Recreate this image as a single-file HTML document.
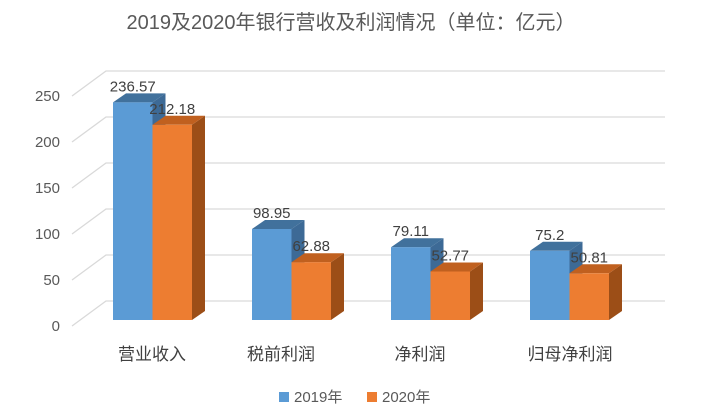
<!DOCTYPE html>
<html><head><meta charset="utf-8"><style>
html,body{margin:0;padding:0;background:#fff;}
svg{display:block;font-family:"Liberation Sans","Noto Sans CJK SC",sans-serif;}
</style></head><body>
<svg width="702" height="420" viewBox="0 0 702 420" xmlns="http://www.w3.org/2000/svg">
<rect width="702" height="420" fill="#fff"/>
<text x="351" y="29" font-size="20" fill="#595959" text-anchor="middle">2019及2020年银行营收及利润情况（单位：亿元）</text>
<g stroke="#d9d9d9" stroke-width="1.3" fill="none">
<polyline points="72,96 106,71 665,71"/>
<polyline points="72,142 106,117 665,117"/>
<polyline points="72,188 106,163 665,163"/>
<polyline points="72,234 106,209 665,209"/>
<polyline points="72,280 106,255 665,255"/>
<polyline points="72,326 106,301 665,301"/>
</g>
<g font-size="15" fill="#595959" text-anchor="end">
<text x="60" y="101">250</text><text x="60" y="147">200</text><text x="60" y="193">150</text>
<text x="60" y="239">100</text><text x="60" y="285">50</text><text x="60" y="331">0</text>
</g>
<!-- group 1 -->
<polygon points="152.5,102.4 165.5,93.4 165.5,311 152.5,320" fill="#3d6a96"/>
<polygon points="113,102.4 126,93.4 165.5,93.4 152.5,102.4" fill="#41719C"/>
<rect x="113" y="102.4" width="39.5" height="217.6" fill="#5B9BD5"/>
<polygon points="192,124.8 205,115.8 205,311 192,320" fill="#9c4e17"/>
<polygon points="152.5,124.8 165.5,115.8 205,115.8 192,124.8" fill="#c0601f"/>
<rect x="152.5" y="124.8" width="39.5" height="195.2" fill="#ED7D31"/>
<!-- group 2 -->
<polygon points="291.5,229 304.5,220 304.5,311 291.5,320" fill="#3d6a96"/>
<polygon points="252,229 265,220 304.5,220 291.5,229" fill="#41719C"/>
<rect x="252" y="229" width="39.5" height="91" fill="#5B9BD5"/>
<polygon points="331,262.2 344,253.2 344,311 331,320" fill="#9c4e17"/>
<polygon points="291.5,262.2 304.5,253.2 344,253.2 331,262.2" fill="#c0601f"/>
<rect x="291.5" y="262.2" width="39.5" height="57.8" fill="#ED7D31"/>
<!-- group 3 -->
<polygon points="430.5,247.2 443.5,238.2 443.5,311 430.5,320" fill="#3d6a96"/>
<polygon points="391,247.2 404,238.2 443.5,238.2 430.5,247.2" fill="#41719C"/>
<rect x="391" y="247.2" width="39.5" height="72.8" fill="#5B9BD5"/>
<polygon points="470,271.5 483,262.5 483,311 470,320" fill="#9c4e17"/>
<polygon points="430.5,271.5 443.5,262.5 483,262.5 470,271.5" fill="#c0601f"/>
<rect x="430.5" y="271.5" width="39.5" height="48.5" fill="#ED7D31"/>
<!-- group 4 -->
<polygon points="569.5,250.8 582.5,241.8 582.5,311 569.5,320" fill="#3d6a96"/>
<polygon points="530,250.8 543,241.8 582.5,241.8 569.5,250.8" fill="#41719C"/>
<rect x="530" y="250.8" width="39.5" height="69.2" fill="#5B9BD5"/>
<polygon points="609,273.3 622,264.3 622,311 609,320" fill="#9c4e17"/>
<polygon points="569.5,273.3 582.5,264.3 622,264.3 609,273.3" fill="#c0601f"/>
<rect x="569.5" y="273.3" width="39.5" height="46.7" fill="#ED7D31"/>
<g font-size="15" fill="#404040" text-anchor="middle">
<text x="132.75" y="91.4">236.57</text><text x="172.25" y="113.8">212.18</text>
<text x="271.75" y="218">98.95</text><text x="311.25" y="251.2">62.88</text>
<text x="410.75" y="236.2">79.11</text><text x="450.25" y="260.5">52.77</text>
<text x="549.75" y="239.8">75.2</text><text x="589.25" y="262.3">50.81</text>
</g>
<g font-size="17" fill="#404040" text-anchor="middle">
<text x="152" y="360">营业收入</text><text x="281" y="360">税前利润</text>
<text x="420" y="360">净利润</text><text x="570" y="360">归母净利润</text>
</g>
<rect x="279" y="392" width="10" height="10" fill="#5B9BD5"/>
<text x="294" y="402" font-size="15" fill="#595959">2019年</text>
<rect x="367" y="392" width="10" height="10" fill="#ED7D31"/>
<text x="382" y="402" font-size="15" fill="#595959">2020年</text>
</svg>
</body></html>
